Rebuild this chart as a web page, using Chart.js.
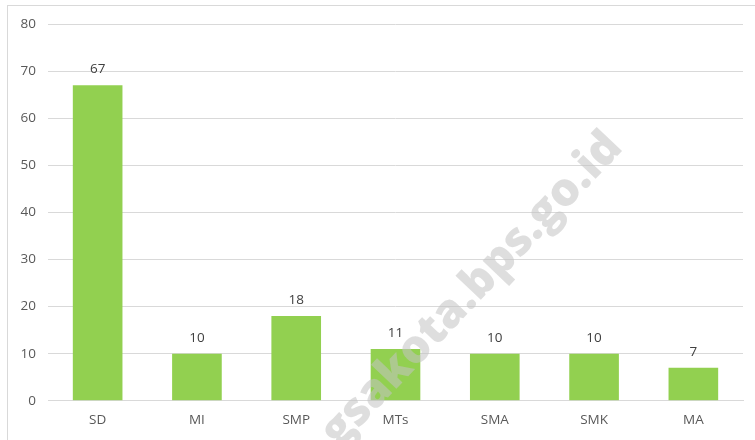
<!DOCTYPE html>
<html>
<head>
<meta charset="utf-8">
<script src="https://cdn.jsdelivr.net/npm/chart.js@4.4.1/dist/chart.umd.min.js"></script>
<style>
  html, body { margin: 0; padding: 0; background: #fff; }
  #wrap { width: 755px; height: 440px; }
</style>
</head>
<body>
<div id="wrap"><canvas id="chart" width="755" height="440"></canvas></div>
<script>
const categories = ["SD", "MI", "SMP", "MTs", "SMA", "SMK", "MA"];
const values = [67, 10, 18, 11, 10, 10, 7];
const yTicks = [0, 10, 20, 30, 40, 50, 60, 70, 80];

const FONT = "'Open Sans', 'Noto Sans', sans-serif";

// outer frame of the chart box
const framePlugin = {
  id: "frame",
  beforeDraw(chart) {
    const ctx = chart.ctx;
    ctx.save();
    ctx.strokeStyle = "#d9d9d9";
    ctx.lineWidth = 1;
    ctx.strokeRect(7.5, 5.5, 800, 500);
    ctx.restore();
  }
};

// value labels above bars
const valueLabels = {
  id: "valueLabels",
  afterDatasetsDraw(chart) {
    const ctx = chart.ctx;
    const meta = chart.getDatasetMeta(0);
    ctx.save();
    ctx.font = "13.5px " + FONT;
    ctx.fillStyle = "#404040";
    ctx.textAlign = "center";
    ctx.textBaseline = "middle";
    meta.data.forEach((bar, i) => {
      ctx.fillText(String(values[i]), bar.x, bar.y - 16);
    });
    ctx.restore();
  }
};

// faint watermark across the plot
const watermark = {
  id: "watermark",
  afterDraw(chart) {
    const ctx = chart.ctx;
    ctx.save();
    ctx.translate(472, 290);
    ctx.rotate(-46.5 * Math.PI / 180);
    ctx.font = "800 46px " + FONT;
    ctx.fillStyle = "rgba(195,195,195,0.55)";
    ctx.textAlign = "center";
    ctx.textBaseline = "middle";
    ctx.fillText("gsakota.bps.go.id", 0, 0);
    ctx.restore();
  }
};

new Chart(document.getElementById("chart"), {
  type: "bar",
  data: {
    labels: categories,
    datasets: [{
      data: values,
      backgroundColor: "#92d050",
      borderWidth: 0,
      barPercentage: 0.5,
      categoryPercentage: 1.0
    }]
  },
  options: {
    responsive: false,
    animation: false,
    layout: { padding: { left: 7, right: 12, top: 24, bottom: 1 } },
    plugins: {
      legend: { display: false },
      tooltip: { enabled: false }
    },
    scales: {
      x: {
        grid: { display: false, drawTicks: false },
        border: { color: "#d9d9d9" },
        ticks: { color: "#595959", font: { size: 13.5, family: FONT }, padding: 11 }
      },
      y: {
        min: 0,
        max: 80,
        afterBuildTicks(scale) {
          scale.ticks = yTicks.map(v => ({ value: v }));
        },
        afterFit(scale) { scale.width = 41; },
        grid: { color: "#d9d9d9", drawTicks: false },
        border: { display: false },
        ticks: { color: "#595959", font: { size: 13.5, family: FONT }, padding: 12 }
      }
    }
  },
  plugins: [framePlugin, valueLabels, watermark]
});
</script>
</body>
</html>
